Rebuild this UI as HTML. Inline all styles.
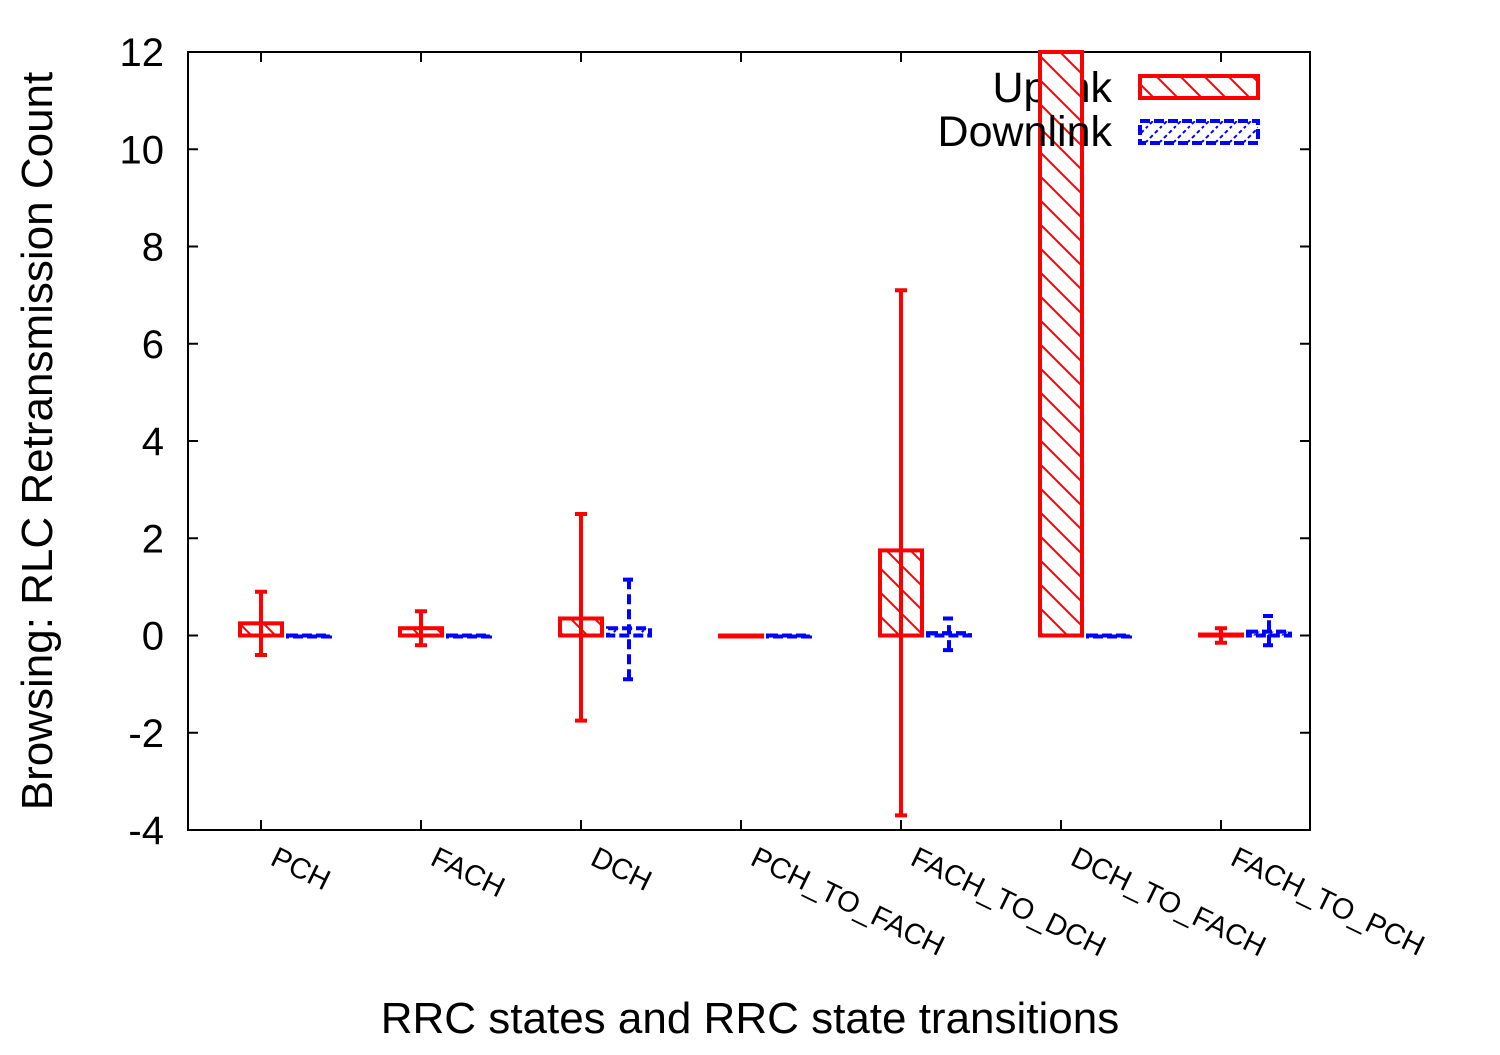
<!DOCTYPE html>
<html><head><meta charset="utf-8"><style>
body{margin:0;background:#fff}
svg text{font-family:"Liberation Sans",sans-serif}
</style></head><body>
<svg id="chart" width="1500" height="1050" xmlns="http://www.w3.org/2000/svg">
<defs>
<pattern id="hatchUp" patternUnits="userSpaceOnUse" width="24" height="24">
<rect width="24" height="24" fill="#fff"/>
<path d="M-6,-6 L30,30 M-6,18 L6,30 M18,-6 L30,6" stroke="#f00" stroke-width="2"/>
</pattern>
<pattern id="hatchDown" patternUnits="userSpaceOnUse" width="14" height="14">
<rect width="14" height="14" fill="#fff"/>
<path d="M-3,17 L17,-3 M-3,3 L3,-3 M11,17 L17,11" stroke="#00f" stroke-width="2" stroke-dasharray="4,3"/>
</pattern>
</defs>
<g id="plot"></g>
</svg>
<script>
const categories=["PCH","FACH","DCH","PCH_TO_FACH","FACH_TO_DCH","DCH_TO_FACH","FACH_TO_PCH"];
const upValues=[0.25,0.15,0.35,0,1.75,12,0.02];
const upLow=[-0.4,-0.2,-1.75,0,-3.7,12,-0.15];
const upHigh=[0.9,0.5,2.5,0,7.1,12,0.15];
const downValues=[0,0,0.15,0,0.05,0,0.08];
const downLow=[0,0,-0.9,0,-0.3,0,-0.2];
const downHigh=[0,0,1.15,0,0.35,0,0.4];
const yTicks=[-4,-2,0,2,4,6,8,10,12];

const L=188,R=1310,T=52,B=830,ymin=-4,ymax=12;
const y=v=>B-(v-ymin)/(ymax-ymin)*(B-T);
const xc=i=>261+i*160;
const ns="http://www.w3.org/2000/svg";
const g=document.getElementById('plot');
function mk(tag,attrs,parent){const e=document.createElementNS(ns,tag);for(const k in attrs)e.setAttribute(k,attrs[k]);(parent||g).appendChild(e);return e;}

const lg=mk('g',{});


const lt1=mk('text',{x:1112,y:102,'text-anchor':'end','font-size':43},lg);lt1.textContent='Uplink';


const lr1=mk('rect',{x:1140,y:76,width:118,height:22,fill:'url(#hatchUp)',stroke:'#f00','stroke-width':4},lg);



const fr=mk('rect',{x:L,y:T,width:R-L,height:B-T,fill:'none',stroke:'#000','stroke-width':2});



yTicks.forEach(t=>{
  const yy=y(t);
  const tk=mk('path',{d:`M${L},${yy}h10M${R},${yy}h-10`,stroke:'#000','stroke-width':2});
  
  
  const tx=mk('text',{x:L-24,y:yy+14,'text-anchor':'end','font-size':40});
  tx.textContent=t;
  
  
});

categories.forEach((c,i)=>{
  const x=xc(i);
  const tk=mk('path',{d:`M${x},${B}v-10M${x},${T}v10`,stroke:'#000','stroke-width':2});
  
  
  const tx=mk('text',{x:x+8,y:B+34,'font-size':29,transform:`rotate(26 ${x+8} ${B+34})`});
  tx.textContent=c;
  
  

  const ux=x-21, uw=42;
  const y0=y(0), yv=y(upValues[i]);
  const ub=mk('rect',{x:ux,y:Math.min(y0,yv),width:uw,height:Math.max(Math.abs(y0-yv),1),fill:'url(#hatchUp)',stroke:'#f00','stroke-width':4});
  
  
  const ue=mk('path',{d:`M${x},${y(upLow[i])}V${y(upHigh[i])}M${x-6},${y(upLow[i])}h12M${x-6},${y(upHigh[i])}h12`,stroke:'#f00','stroke-width':4,fill:'none'});
  
  

  const dx=x+27, dc=x+48;
  const dv=y(downValues[i]);
  const db=mk('rect',{x:dx,y:Math.min(y0,dv),width:42,height:Math.max(Math.abs(y0-dv),1),fill:'url(#hatchDown)',stroke:'#00f','stroke-width':4,'stroke-dasharray':'10,4'});
  
  
  if(downHigh[i]!==downLow[i]){
    const de=mk('path',{d:`M${dc},${y(downLow[i])}V${y(downHigh[i])}M${dc-6},${y(downLow[i])}h12M${dc-6},${y(downHigh[i])}h12`,stroke:'#00f','stroke-width':4,fill:'none','stroke-dasharray':'10,5'});
    
    
  }
});

const lg2=mk('g',{});


const lt2=mk('text',{x:1112,y:146,'text-anchor':'end','font-size':43},lg2);lt2.textContent='Downlink';


const lr2=mk('rect',{x:1140,y:121,width:118,height:22,fill:'url(#hatchDown)',stroke:'#00f','stroke-width':4,'stroke-dasharray':'10,4'},lg2);



const xt=mk('text',{x:750,y:1033,'text-anchor':'middle','font-size':44});
xt.textContent='RRC states and RRC state transitions';


const yt=mk('text',{x:0,y:0,'text-anchor':'middle','font-size':44,transform:'translate(52,441) rotate(-90)'});
yt.textContent='Browsing: RLC Retransmission Count';


</script>
</body></html>
